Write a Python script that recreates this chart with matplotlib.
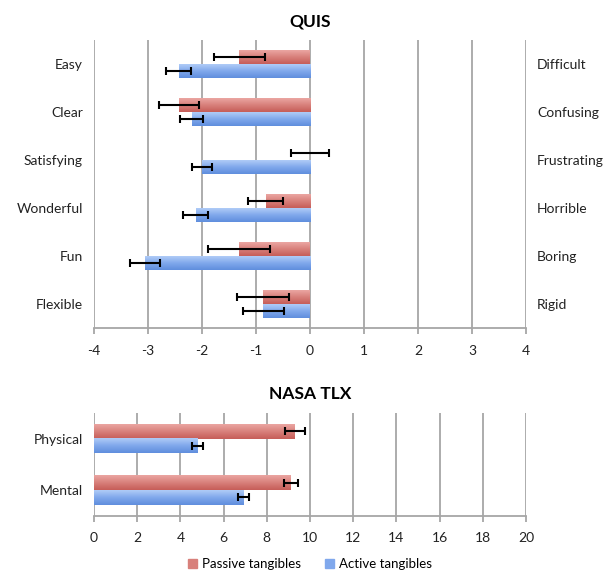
import numpy as np
import matplotlib
matplotlib.use('Agg')
import matplotlib.pyplot as plt
from matplotlib.colors import LinearSegmentedColormap

plt.rcParams['font.family'] = ['Lato', 'DejaVu Sans']
plt.rcParams['axes.unicode_minus'] = False

# QUIS data (top to bottom)
quis_left = ['Easy', 'Clear', 'Satisfying', 'Wonderful', 'Fun', 'Flexible']
quis_right = ['Difficult', 'Confusing', 'Frustrating', 'Horrible', 'Boring', 'Rigid']
quis_passive = [-1.31, -2.43, 0.0, -0.82, -1.31, -0.87]
quis_passive_err = [0.47, 0.37, 0.35, 0.32, 0.57, 0.48]
quis_active = [-2.43, -2.19, -2.0, -2.12, -3.06, -0.87]
quis_active_err = [0.23, 0.21, 0.19, 0.24, 0.28, 0.38]

# NASA TLX data
tlx_labels = ['Physical', 'Mental']
tlx_passive = [9.3, 9.12]
tlx_passive_err = [0.48, 0.33]
tlx_active = [4.81, 6.93]
tlx_active_err = [0.25, 0.25]

series_names = ['Passive tangibles', 'Active tangibles']
col_passive = '#D8807B'
col_active = '#80A8EC'
grad_passive = LinearSegmentedColormap.from_list('p', ['#EBA6A2', '#D8807B', '#C65D58'])
grad_active = LinearSegmentedColormap.from_list('a', ['#B0CCF7', '#80A8EC', '#5F8EDD'])
grid_col = '#A6A6A6'
fs = 10

fig = plt.figure(figsize=(6.16, 5.72), dpi=100)

def style_axes(ax, ticks):
    ax.set_xticks(ticks)
    for t in ticks:
        ax.axvline(t, color=grid_col, lw=1.3, zorder=0)
    for s in ['top', 'right', 'left']:
        ax.spines[s].set_visible(False)
    ax.spines['bottom'].set_color(grid_col)
    ax.spines['bottom'].set_linewidth(1.3)
    ax.tick_params(axis='x', colors=grid_col, length=4, width=1.3, labelcolor='#222222',
                   labelsize=fs, pad=8)
    ax.tick_params(axis='y', length=0, labelsize=fs, pad=8, labelcolor='#222222')

def gradient_bars(ax, bars, cmap):
    # paint a vertical gradient inside each bar (light top, dark bottom)
    grad = np.linspace(0, 1, 64).reshape(-1, 1)
    for p in bars.patches:
        x0, w = p.get_x(), p.get_width()
        y0, hh = p.get_y(), p.get_height()
        if w == 0:
            continue
        p.set_facecolor('none')
        ax.imshow(grad, cmap=cmap, aspect='auto', zorder=2,
                  extent=[min(x0, x0 + w), max(x0, x0 + w), y0 + hh, y0],
                  interpolation='bicubic')

ekw = dict(ecolor='black', elinewidth=1.5, capsize=3, capthick=1.5, zorder=4)

# ---- QUIS ----
ax1 = fig.add_axes([0.1526, 0.4266, 0.7013, 0.5035])
n = len(quis_left)
y = np.arange(n)
h = 0.29
b1 = ax1.barh(y - h / 2, quis_passive, height=h, color=col_passive, xerr=quis_passive_err,
              error_kw=ekw, zorder=2, label=series_names[0], linewidth=0)
b2 = ax1.barh(y + h / 2, quis_active, height=h, color=col_active, xerr=quis_active_err,
              error_kw=ekw, zorder=2, label=series_names[1], linewidth=0)
gradient_bars(ax1, b1, grad_passive)
gradient_bars(ax1, b2, grad_active)
ax1.set_xlim(-4, 4)
ax1.set_ylim(n - 0.5, -0.5)
style_axes(ax1, np.arange(-4, 5))
ax1.set_yticks(y)
ax1.set_yticklabels(quis_left)
ax1r = ax1.twinx()
ax1r.set_ylim(n - 0.5, -0.5)
ax1r.set_yticks(y)
ax1r.set_yticklabels(quis_right)
for s in ['top', 'right', 'left', 'bottom']:
    ax1r.spines[s].set_visible(False)
ax1r.tick_params(axis='y', length=0, labelsize=fs, pad=8, labelcolor='#222222')
ax1.set_title('QUIS', fontsize=12.5, fontweight='bold', pad=10)

# ---- NASA TLX ----
ax2 = fig.add_axes([0.1526, 0.0984, 0.7013, 0.1795])
m = len(tlx_labels)
y2 = np.arange(m)
h2 = 0.285
c1 = ax2.barh(y2 - h2 / 2, tlx_passive, height=h2, color=col_passive, xerr=tlx_passive_err,
              error_kw=ekw, zorder=2, linewidth=0)
c2 = ax2.barh(y2 + h2 / 2, tlx_active, height=h2, color=col_active, xerr=tlx_active_err,
              error_kw=ekw, zorder=2, linewidth=0)
gradient_bars(ax2, c1, grad_passive)
gradient_bars(ax2, c2, grad_active)
ax2.set_xlim(0, 20)
ax2.set_ylim(m - 0.5, -0.5)
style_axes(ax2, np.arange(0, 21, 2))
ax2.set_yticks(y2)
ax2.set_yticklabels(tlx_labels)
ax2.set_title('NASA TLX', fontsize=12.5, fontweight='bold', pad=10)

handles = [plt.Rectangle((0, 0), 1, 1, color=col_passive),
           plt.Rectangle((0, 0), 1, 1, color=col_active)]
ax2.legend(handles, series_names, loc='upper center', bbox_to_anchor=(0.5, -0.30), ncol=2,
           frameon=False, fontsize=9.5, handlelength=0.7, handleheight=0.7,
           columnspacing=1.8, handletextpad=0.4)

fig.savefig('out.png', dpi=100)
